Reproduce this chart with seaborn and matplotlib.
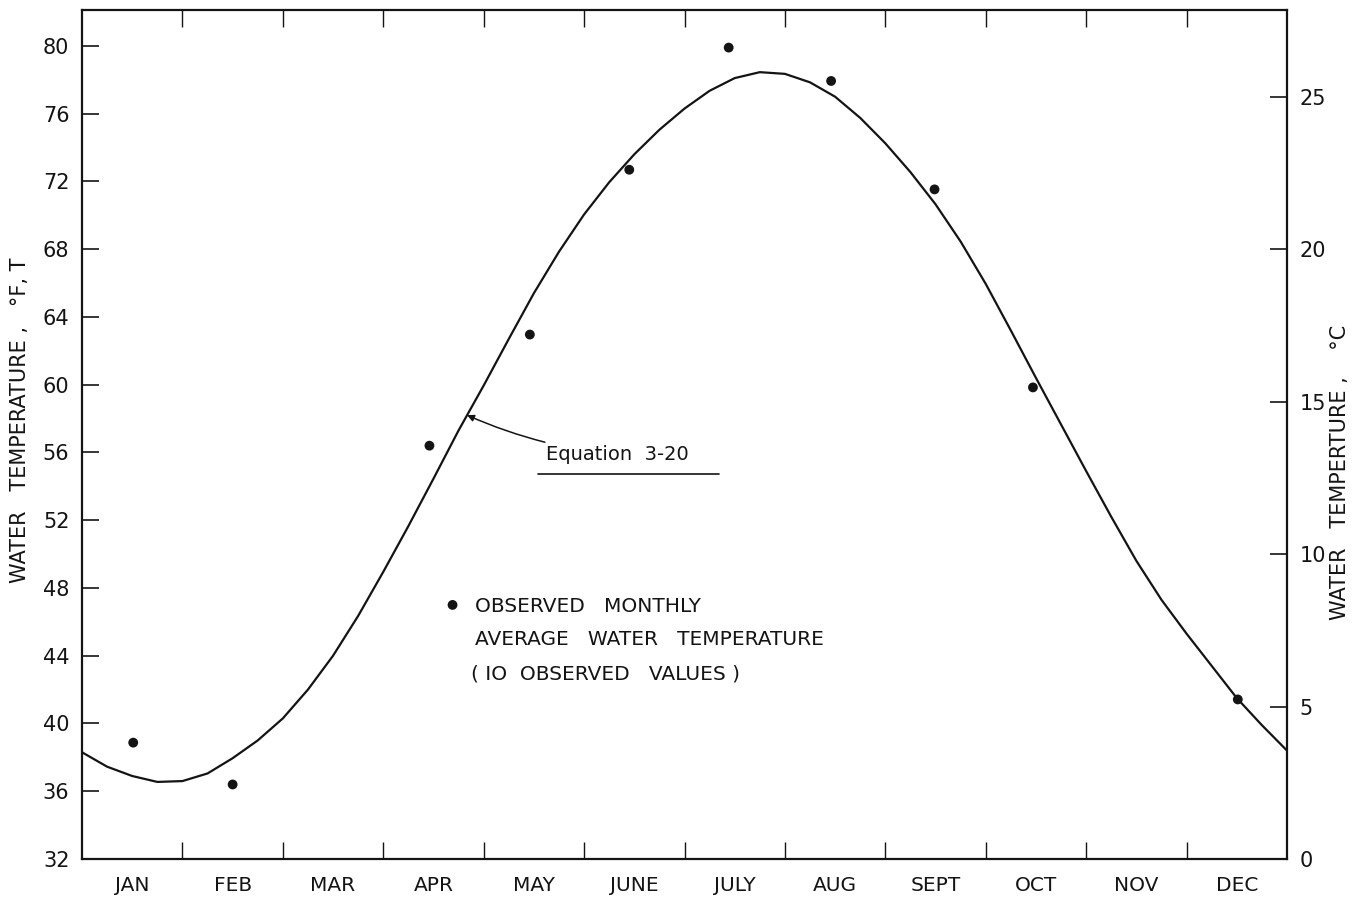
import numpy as np
import pandas as pd
import matplotlib
matplotlib.use("Agg")
import matplotlib.pyplot as plt
import seaborn as sns

# Fitted seasonal curve (Equation 3-20), water temperature in deg F, sampled every quarter month
curve_month = [0.00, 0.25, 0.50, 0.75, 1.00, 1.25, 1.50, 1.75, 2.00, 2.25, 2.50, 2.75,
               3.00, 3.25, 3.50, 3.75, 4.00, 4.25, 4.50, 4.75, 5.00, 5.25, 5.50, 5.75,
               6.00, 6.25, 6.50, 6.75, 7.00, 7.25, 7.50, 7.75, 8.00, 8.25, 8.50, 8.75,
               9.00, 9.25, 9.50, 9.75, 10.00, 10.25, 10.50, 10.75, 11.00, 11.25, 11.50,
               11.75, 12.00]
curve_temp_f = [38.3, 37.45, 36.9, 36.55, 36.6, 37.05, 37.95, 39.0, 40.3, 42.0, 44.0, 46.35,
                48.95, 51.65, 54.45, 57.3, 59.95, 62.7, 65.4, 67.85, 70.05, 71.95, 73.6, 75.05,
                76.3, 77.35, 78.1, 78.45, 78.35, 77.85, 77.0, 75.75, 74.25, 72.55, 70.65, 68.45,
                65.95, 63.2, 60.4, 57.65, 54.9, 52.2, 49.6, 47.3, 45.3, 43.4, 41.5,
                39.9, 38.4]

# Observed monthly average water temperatures (10 values), deg F
obs_month = [0.51, 1.50, 3.46, 4.46, 5.45, 6.44, 7.46, 8.49, 9.47, 11.51]
obs_temp_f = [38.87, 36.40, 56.40, 62.96, 72.69, 79.90, 77.93, 71.53, 59.84, 41.42]

month_labels = ["JAN", "FEB", "MAR", "APR", "MAY", "JUNE", "JULY", "AUG",
                "SEPT", "OCT", "NOV", "DEC"]
f_ticks = [32, 36, 40, 44, 48, 52, 56, 60, 64, 68, 72, 76, 80]
c_ticks = [0, 5, 10, 15, 20, 25]

curve = pd.DataFrame({"month": curve_month, "temp": curve_temp_f})
obs = pd.DataFrame({"month": obs_month, "temp": obs_temp_f})

sns.set_theme(style="white")
plt.rcParams["font.family"] = ["DejaVu Sans"]
ink = "#141414"

fig = plt.figure(figsize=(13.59, 8.99), dpi=100)
ax = fig.add_axes([82 / 1359, 1 - 859 / 899, 1205 / 1359, 849 / 899])

sns.lineplot(data=curve, x="month", y="temp", ax=ax, color=ink, lw=1.6,
             sort=False, estimator=None)
sns.scatterplot(data=obs, x="month", y="temp", ax=ax, color=ink, s=50,
                edgecolor="none", zorder=3)

ymax_f = 82.12
ax.set_xlim(0, 12)
ax.set_ylim(32, ymax_f)
ax.set_xlabel("")
ax.set_ylabel("")

for side in ["left", "right", "top", "bottom"]:
    ax.spines[side].set_visible(True)
    ax.spines[side].set_color(ink)
    ax.spines[side].set_linewidth(1.6)

ax.set_yticks(f_ticks)
ax.set_yticklabels([str(t) for t in f_ticks])
ax.set_xticks(range(1, 12))
ax.set_xticklabels([])
ax.set_xticks([m + 0.5 for m in range(12)], minor=True)
ax.set_xticklabels(month_labels, minor=True)
ax.tick_params(axis="x", which="major", direction="in", length=12, width=1.0,
               color=ink, top=True, bottom=True)
ax.tick_params(axis="x", which="minor", length=0, pad=12, labelsize=14.5,
               labelcolor=ink)
ax.tick_params(axis="y", which="major", direction="in", length=12, width=1.2,
               color=ink, labelsize=15, labelcolor=ink, pad=9, left=True, right=False)

# Celsius scale on the right-hand axis
ax2 = ax.twinx()
ax2.set_ylim(0, (ymax_f - 32) * 5 / 9)
ax2.set_yticks(c_ticks)
ax2.set_yticklabels([str(t) for t in c_ticks])
ax2.tick_params(axis="y", direction="in", length=12, width=1.2, color=ink,
                labelsize=15, labelcolor=ink, pad=9)
ax2.grid(False)
for side in ["left", "right", "top", "bottom"]:
    ax2.spines[side].set_visible(False)

fig.text(20 / 1359, 1 - 420 / 899, "WATER   TEMPERATURE ,   °F, T", rotation=90,
         ha="center", va="center", fontsize=15, color=ink)
fig.text(1340 / 1359, 1 - 472 / 899, "WATER   TEMPERTURE ,    °C", rotation=90,
         ha="center", va="center", fontsize=15, color=ink)

# Leader from the curve to the equation label
target_m = 3.835
target_t = float(np.interp(target_m, curve_month, curve_temp_f))
ax.annotate("Equation  3-20", xy=(target_m, target_t), xytext=(4.62, 55.85),
            fontsize=14, color=ink, ha="left", va="center",
            arrowprops=dict(arrowstyle="-|>", color=ink, lw=1.1,
                            mutation_scale=10, shrinkA=0, shrinkB=0,
                            connectionstyle="arc3,rad=-0.08"))
ax.plot([4.54, 6.34], [54.75, 54.75], color=ink, lw=1.2)

# Key for the observed points
ax.scatter([3.69], [47.0], s=50, color=ink, edgecolor="none")
ax.text(3.91, 46.9, "OBSERVED   MONTHLY", fontsize=14.5, color=ink, va="center")
ax.text(3.91, 44.95, "AVERAGE   WATER   TEMPERATURE", fontsize=14.5, color=ink,
        va="center")
ax.text(3.87, 42.9, "( IO  OBSERVED   VALUES )", fontsize=14.5, color=ink,
        va="center")

fig.savefig("out.png", dpi=100, facecolor="white")
